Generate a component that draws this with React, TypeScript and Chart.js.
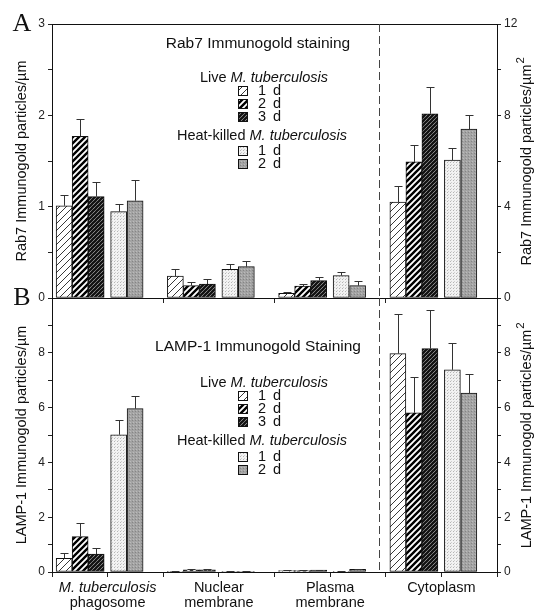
import React, { useEffect, useRef } from 'react';
import { Chart, registerables } from 'chart.js';

Chart.register(...registerables);

// ---------- data ----------
const CATEGORY_LINE1 = ['M. tuberculosis', 'Nuclear', 'Plasma', 'Cytoplasm'];
const CATEGORY_LINE2 = ['phagosome', 'membrane', 'membrane', ''];
const CATEGORY_ITALIC = [true, false, false, false];
const SERIES_LABELS = ['1 d', '2 d', '3 d', '1 d', '2 d'];
const LEGEND_HEADERS = ['Live', 'Heat-killed'];
const ORGANISM = 'M. tuberculosis';

// Rab7 (panel A): first three categories in particles/µm (left axis), cytoplasm in particles/µm² (right axis)
const RAB7_LIVE_1D = [1.01, 0.24, 0.05, 4.2];
const RAB7_LIVE_2D = [1.77, 0.135, 0.13, 5.96];
const RAB7_LIVE_3D = [1.11, 0.153, 0.19, 8.07];
const RAB7_HK_1D = [0.945, 0.314, 0.245, 6.04];
const RAB7_HK_2D = [1.065, 0.343, 0.135, 7.4];
const RAB7_LIVE_1D_SE = [0.12, 0.08, 0.02, 0.72];
const RAB7_LIVE_2D_SE = [0.19, 0.035, 0.02, 0.73];
const RAB7_LIVE_3D_SE = [0.16, 0.05, 0.04, 1.16];
const RAB7_HK_1D_SE = [0.085, 0.056, 0.045, 0.52];
const RAB7_HK_2D_SE = [0.225, 0.057, 0.055, 0.6];

// LAMP-1 (panel B)
const LAMP1_LIVE_1D = [0.5, 0.02, 0.05, 7.97];
const LAMP1_LIVE_2D = [1.29, 0.08, 0.05, 5.81];
const LAMP1_LIVE_3D = [0.65, 0.08, 0.07, 8.15];
const LAMP1_HK_1D = [5.01, 0.02, 0.01, 7.38];
const LAMP1_HK_2D = [5.96, 0.01, 0.1, 6.53];
const LAMP1_LIVE_1D_SE = [0.18, 0.01, 0.01, 1.43];
const LAMP1_LIVE_2D_SE = [0.49, 0.02, 0.01, 1.29];
const LAMP1_LIVE_3D_SE = [0.22, 0.02, 0.02, 1.43];
const LAMP1_HK_1D_SE = [0.55, 0.01, 0.01, 0.97];
const LAMP1_HK_2D_SE = [0.46, 0.01, 0.02, 0.7];

// ---------- layout ----------
const W = 544;
const H = 615;
const FONT = '"Liberation Sans", Arial, sans-serif';
const LEFT_AXIS_W = 52;
const RIGHT_AXIS_W = 47;
const SLOT_OFFSETS = [-0.391, -0.247, -0.103, 0.099, 0.247];
const BAR_THICKNESS = 16;
const DIVIDER_X = 2.439;
const TEXT_SIZE = 14.5;

type Panel = {
  means: number[][];
  errors: number[][];
  leftMax: number; leftStep: number; leftLabelEvery: number;
  rightMax: number; rightStep: number; rightLabelEvery: number;
  top: number; bottom: number; xAxisH: number; xStep: number;
  title: string; titleY: number;
  letter: string; letterY: number;
  legendY: number[];
  yTitleLeft: string; yTitleRight: string;
  showXLabels: boolean;
};

const PANEL_A: Panel = {
  means: [RAB7_LIVE_1D, RAB7_LIVE_2D, RAB7_LIVE_3D, RAB7_HK_1D, RAB7_HK_2D],
  errors: [RAB7_LIVE_1D_SE, RAB7_LIVE_2D_SE, RAB7_LIVE_3D_SE, RAB7_HK_1D_SE, RAB7_HK_2D_SE],
  leftMax: 3, leftStep: 0.5, leftLabelEvery: 1,
  rightMax: 12, rightStep: 2, rightLabelEvery: 4,
  top: 24, bottom: 298, xAxisH: 8, xStep: 1,
  title: 'Rab7 Immunogold staining', titleY: 44,
  letter: 'A', letterY: 24,
  legendY: [78, 91, 104, 117, 136, 151, 164],
  yTitleLeft: 'Rab7 Immunogold particles/µm',
  yTitleRight: 'Rab7 Immunogold particles/µm',
  showXLabels: false,
};

const PANEL_B: Panel = {
  means: [LAMP1_LIVE_1D, LAMP1_LIVE_2D, LAMP1_LIVE_3D, LAMP1_HK_1D, LAMP1_HK_2D],
  errors: [LAMP1_LIVE_1D_SE, LAMP1_LIVE_2D_SE, LAMP1_LIVE_3D_SE, LAMP1_HK_1D_SE, LAMP1_HK_2D_SE],
  leftMax: 10, leftStep: 1, leftLabelEvery: 2,
  rightMax: 10, rightStep: 1, rightLabelEvery: 2,
  top: 298, bottom: 572, xAxisH: 43, xStep: 0.5,
  title: 'LAMP-1 Immunogold Staining', titleY: 347,
  letter: 'B', letterY: 298,
  legendY: [383, 396, 409, 422, 441, 457, 470],
  yTitleLeft: 'LAMP-1 Immunogold particles/µm',
  yTitleRight: 'LAMP-1 Immunogold particles/µm',
  showXLabels: true,
};

function diag(ctx: CanvasRenderingContext2D, s: number) {
  ctx.beginPath();
  ctx.moveTo(-1, s + 1); ctx.lineTo(s + 1, -1);
  ctx.moveTo(-s / 2 - 1, s / 2 + 1); ctx.lineTo(s / 2 + 1, -s / 2 - 1);
  ctx.moveTo(s / 2 - 1, s * 1.5 + 1); ctx.lineTo(s * 1.5 + 1, s / 2 - 1);
  ctx.stroke();
}

function makePatterns(target: CanvasRenderingContext2D): CanvasPattern[] {
  const out: CanvasPattern[] = [];
  for (let k = 0; k < 5; k++) {
    const c = document.createElement('canvas');
    const ctx = c.getContext('2d')!;
    if (k === 0) {
      const s = 7; c.width = s; c.height = s;
      ctx.fillStyle = '#fff'; ctx.fillRect(0, 0, s, s);
      ctx.strokeStyle = '#222'; ctx.lineWidth = 0.9; diag(ctx, s);
    } else if (k === 1) {
      const s = 6; c.width = s; c.height = s;
      ctx.fillStyle = '#fff'; ctx.fillRect(0, 0, s, s);
      ctx.strokeStyle = '#000'; ctx.lineWidth = 2.4; diag(ctx, s);
    } else if (k === 2) {
      const s = 4; c.width = s; c.height = s;
      ctx.fillStyle = '#ddd'; ctx.fillRect(0, 0, s, s);
      ctx.strokeStyle = '#111'; ctx.lineWidth = 2.3; diag(ctx, s);
    } else if (k === 3) {
      const s = 3; c.width = s; c.height = s;
      ctx.fillStyle = '#f2f2f2'; ctx.fillRect(0, 0, s, s);
      ctx.fillStyle = '#b5b5b5'; ctx.fillRect(0, 0, 1, 1);
      ctx.fillStyle = '#d0d0d0'; ctx.fillRect(1, 2, 1, 1);
    } else {
      const s = 3; c.width = s; c.height = s;
      ctx.fillStyle = '#a3a3a3'; ctx.fillRect(0, 0, s, s);
      ctx.fillStyle = '#858585'; ctx.fillRect(0, 0, 1, 1);
      ctx.fillStyle = '#bbbbbb'; ctx.fillRect(1, 2, 1, 1);
    }
    out.push(target.createPattern(c, 'repeat')!);
  }
  return out;
}

function drawMixed(ctx: CanvasRenderingContext2D, parts: [string, boolean][], cx: number, cy: number) {
  const fonts = parts.map(([, it]) => `${it ? 'italic ' : ''}${TEXT_SIZE}px ${FONT}`);
  let total = 0;
  const widths = parts.map(([t], i) => { ctx.font = fonts[i]; const w = ctx.measureText(t).width; total += w; return w; });
  let x = cx - total / 2;
  ctx.textAlign = 'left';
  ctx.textBaseline = 'middle';
  parts.forEach(([t], i) => { ctx.font = fonts[i]; ctx.fillText(t, x, cy); x += widths[i]; });
}

function buildConfig(panel: Panel, canvas: HTMLCanvasElement): any {
  const patterns = makePatterns(canvas.getContext('2d')!);
  const datasets: any[] = [];
  panel.means.forEach((vals, k) => {
    datasets.push({
      label: SERIES_LABELS[k],
      yAxisID: 'y',
      data: [0, 1, 2].map((g) => ({ x: g + SLOT_OFFSETS[k], y: vals[g] })),
      errors: [0, 1, 2].map((g) => panel.errors[k][g]),
      backgroundColor: patterns[k],
      borderColor: '#111',
      borderWidth: 1,
      borderSkipped: false,
      barThickness: BAR_THICKNESS,
      grouped: false,
    });
    datasets.push({
      label: SERIES_LABELS[k],
      yAxisID: 'y1',
      data: [3].map((g) => ({ x: g + SLOT_OFFSETS[k], y: vals[g] })),
      errors: [3].map((g) => panel.errors[k][g]),
      backgroundColor: patterns[k],
      borderColor: '#111',
      borderWidth: 1,
      borderSkipped: false,
      barThickness: BAR_THICKNESS,
      grouped: false,
    });
  });

  const overlay = {
    id: 'overlay',
    afterDatasetsDraw(chart: any) {
      const ctx: CanvasRenderingContext2D = chart.ctx;
      const { left, right, top, bottom } = chart.chartArea;
      ctx.save();
      // error bars
      ctx.strokeStyle = '#333';
      ctx.lineWidth = 1;
      chart.data.datasets.forEach((ds: any, i: number) => {
        const meta = chart.getDatasetMeta(i);
        const ys = chart.scales[ds.yAxisID];
        meta.data.forEach((el: any, j: number) => {
          const v = ds.data[j].y;
          const e = ds.errors[j];
          const x = Math.round(el.x) + 0.5;
          const yTop = Math.round(ys.getPixelForValue(v + e)) + 0.5;
          const yBar = ys.getPixelForValue(v);
          ctx.beginPath();
          ctx.moveTo(x, yBar);
          ctx.lineTo(x, yTop);
          ctx.moveTo(x - 4, yTop);
          ctx.lineTo(x + 4, yTop);
          ctx.stroke();
        });
      });
      // frame top line
      ctx.strokeStyle = '#111';
      ctx.beginPath();
      ctx.moveTo(left, Math.round(top) + 0.5);
      ctx.lineTo(right, Math.round(top) + 0.5);
      ctx.stroke();
      // divider
      const dx = Math.round(chart.scales.x.getPixelForValue(DIVIDER_X)) + 0.5;
      ctx.strokeStyle = '#444';
      ctx.setLineDash([8, 4]);
      ctx.beginPath();
      ctx.moveTo(dx, top);
      ctx.lineTo(dx, bottom);
      ctx.stroke();
      ctx.setLineDash([]);

      ctx.fillStyle = '#111';
      // title
      ctx.font = `${TEXT_SIZE + 1}px ${FONT}`;
      ctx.textAlign = 'center';
      ctx.textBaseline = 'middle';
      ctx.fillText(panel.title, 258, panel.titleY);
      // panel letter
      ctx.font = `26px "Liberation Serif", "Times New Roman", serif`;
      ctx.textAlign = 'center';
      ctx.fillText(panel.letter, 22, panel.letterY);
      // legend
      const ly = panel.legendY;
      drawMixed(ctx, [[LEGEND_HEADERS[0] + ' ', false], [ORGANISM, true]], 264, ly[0]);
      drawMixed(ctx, [[LEGEND_HEADERS[1] + ' ', false], [ORGANISM, true]], 262, ly[4]);
      const rows = [ly[1], ly[2], ly[3], ly[5], ly[6]];
      rows.forEach((ry, k) => {
        ctx.fillStyle = patterns[k];
        ctx.fillRect(238.5, Math.round(ry) - 4.5, 9, 9);
        ctx.strokeStyle = '#111';
        ctx.strokeRect(238.5, Math.round(ry) - 4.5, 9, 9);
        ctx.fillStyle = '#111';
        ctx.font = `${TEXT_SIZE}px ${FONT}`;
        ctx.textAlign = 'left';
        ctx.textBaseline = 'middle';
        const [n, d] = SERIES_LABELS[k].split(' ');
        ctx.fillText(n, 258, ry);
        ctx.fillText(d, 273, ry);
      });
      // axis titles
      const cy = (top + bottom) / 2;
      ctx.font = `${TEXT_SIZE}px ${FONT}`;
      ctx.textAlign = 'center';
      ctx.textBaseline = 'middle';
      ctx.save();
      ctx.translate(22, cy);
      ctx.rotate(-Math.PI / 2);
      ctx.fillText(panel.yTitleLeft, 0, 0);
      ctx.restore();
      ctx.save();
      ctx.translate(527, cy);
      ctx.rotate(-Math.PI / 2);
      const tw = ctx.measureText(panel.yTitleRight).width;
      ctx.textAlign = 'left';
      ctx.fillText(panel.yTitleRight, -tw / 2 - 4, 0);
      ctx.font = `${TEXT_SIZE - 3}px ${FONT}`;
      ctx.fillText('2', tw / 2 - 3, -6);
      ctx.restore();
      // x labels
      if (panel.showXLabels) {
        const xs = chart.scales.x;
        CATEGORY_LINE1.forEach((l1, i) => {
          const px = xs.getPixelForValue(i);
          ctx.textAlign = 'center';
          ctx.textBaseline = 'middle';
          ctx.font = `${CATEGORY_ITALIC[i] ? 'italic ' : ''}${TEXT_SIZE}px ${FONT}`;
          ctx.fillText(l1, px, bottom + 16);
          ctx.font = `${TEXT_SIZE}px ${FONT}`;
          if (CATEGORY_LINE2[i]) ctx.fillText(CATEGORY_LINE2[i], px, bottom + 31);
        });
      }
      ctx.restore();
    },
  };

  const yTick = (every: number, max: number) => (v: number) => {
    const r = Math.round(v * 1000) / 1000;
    if (r === max && max === 10) return '';
    return Math.abs(r / every - Math.round(r / every)) < 1e-6 ? String(r) : '';
  };

  return {
    type: 'bar',
    data: { datasets },
    options: {
      responsive: false,
      animation: false,
      events: [],
      layout: { padding: { left: 0, right: 0, top: panel.top, bottom: H - panel.bottom - panel.xAxisH } },
      plugins: { legend: { display: false }, tooltip: { enabled: false }, title: { display: false } },
      scales: {
        x: {
          type: 'linear',
          min: -0.5,
          max: 3.5,
          offset: false,
          position: 'bottom',
          ticks: { display: false, stepSize: panel.xStep, includeBounds: false, autoSkip: false },
          grid: { drawOnChartArea: false, drawTicks: true, tickLength: 5, tickColor: '#222', offset: false },
          border: { display: true, color: '#111' },
          afterFit: (s: any) => { s.height = panel.xAxisH; },
        },
        y: {
          type: 'linear',
          position: 'left',
          min: 0,
          max: panel.leftMax,
          ticks: {
            stepSize: panel.leftStep, autoSkip: false, padding: 3, color: '#222',
            font: { size: 12, family: FONT },
            callback: yTick(panel.leftLabelEvery, panel.leftMax),
          },
          grid: { drawOnChartArea: false, tickLength: 4, tickColor: '#222' },
          border: { display: true, color: '#111' },
          afterFit: (s: any) => { s.width = LEFT_AXIS_W; },
        },
        y1: {
          type: 'linear',
          position: 'right',
          min: 0,
          max: panel.rightMax,
          ticks: {
            stepSize: panel.rightStep, autoSkip: false, padding: 3, color: '#222',
            font: { size: 12, family: FONT },
            callback: yTick(panel.rightLabelEvery, panel.rightMax),
          },
          grid: { drawOnChartArea: false, tickLength: 4, tickColor: '#222' },
          border: { display: true, color: '#111' },
          afterFit: (s: any) => { s.width = RIGHT_AXIS_W; },
        },
      },
    },
    plugins: [overlay],
  };
}

export default function App() {
  const refA = useRef<HTMLCanvasElement>(null);
  const refB = useRef<HTMLCanvasElement>(null);
  useEffect(() => {
    Chart.defaults.font.family = FONT;
    const a = new Chart(refA.current!, buildConfig(PANEL_A, refA.current!));
    const b = new Chart(refB.current!, buildConfig(PANEL_B, refB.current!));
    return () => { a.destroy(); b.destroy(); };
  }, []);
  return (
    <div style={{ position: 'absolute', left: 0, top: 0, width: W, height: H, background: '#fff' }}>
      <canvas ref={refA} width={W} height={H} style={{ position: 'absolute', left: 0, top: 0 }} />
      <canvas ref={refB} width={W} height={H} style={{ position: 'absolute', left: 0, top: 0 }} />
    </div>
  );
}
